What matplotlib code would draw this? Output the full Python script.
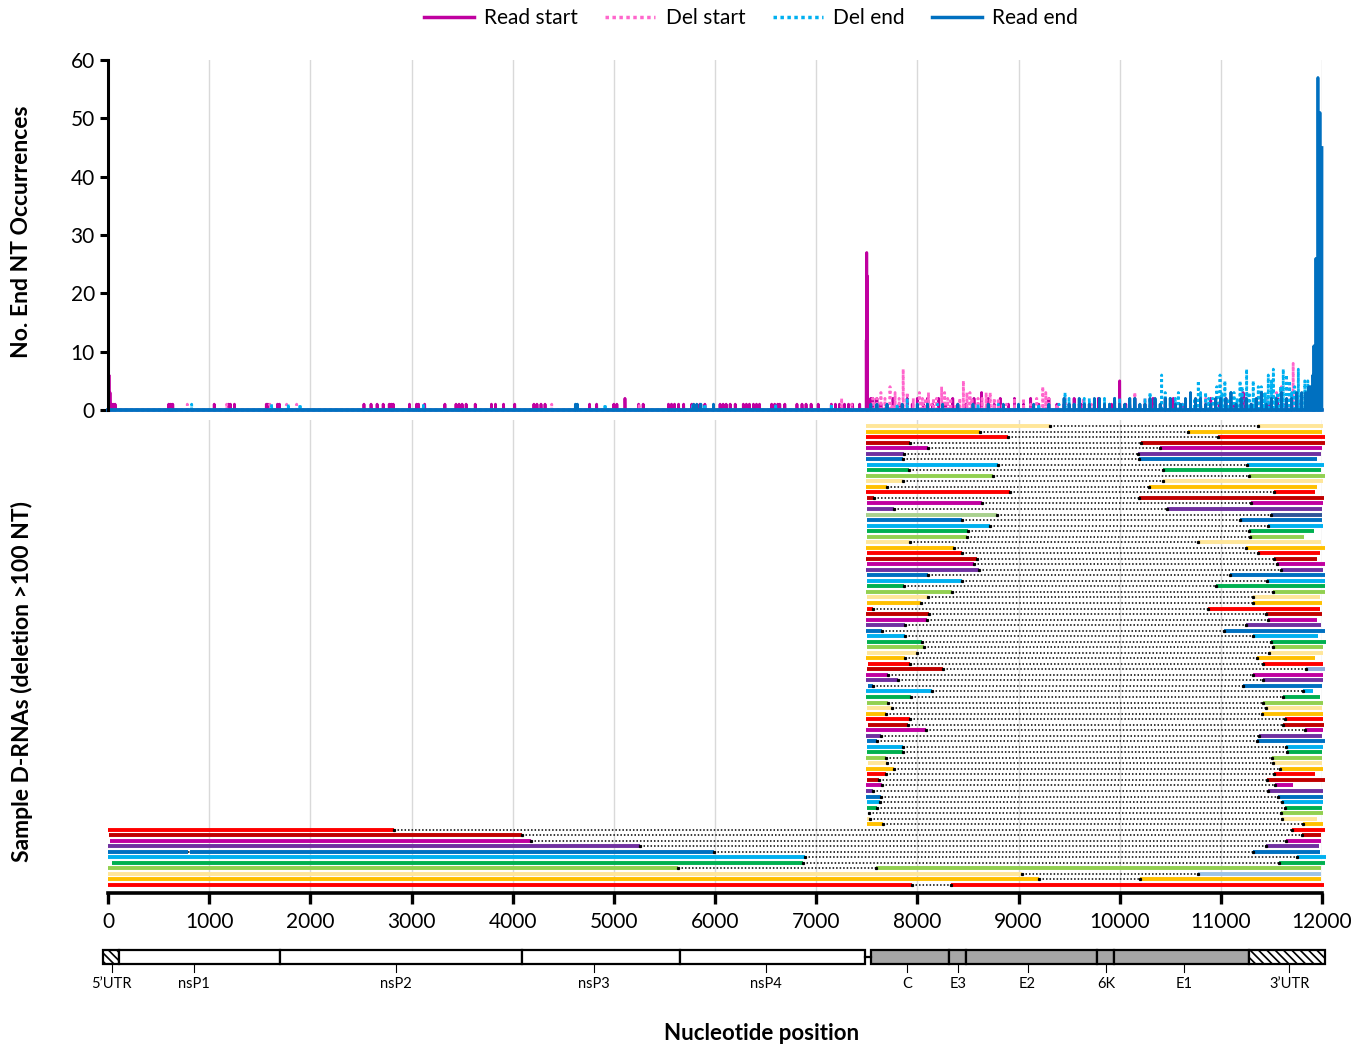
import numpy as np
import matplotlib
matplotlib.use("Agg")
import matplotlib.pyplot as plt
from matplotlib.patches import Rectangle
from matplotlib.lines import Line2D

plt.rcParams['font.family'] = ['Lato', 'DejaVu Sans']
plt.rcParams['hatch.linewidth'] = 1.2

GENOME_LEN = 12000

# ---------------- top panel : end nucleotide occurrences ----------------
read_start_pos = [10, 20, 30, 50, 70, 600, 620, 640, 1050, 1190, 1210, 1250, 1565, 1580, 1675, 1695,
                  2530, 2600, 2660, 2720, 2780, 2800, 2820, 2980, 3050, 3070, 3130, 3330, 3440, 3470,
                  3500, 3540, 3630, 3790, 3830, 3910, 4020, 4210, 4240, 4280, 4320, 4760, 4830, 5000,
                  5030, 5110, 5245, 5290, 5540, 5570, 5600, 5640, 5690, 5770, 5850, 5900, 6050, 6080,
                  6110, 6150, 6200, 6280, 6310, 6340, 6380, 6410, 6440, 6560, 6590, 6620, 6640, 6690,
                  6810, 6860, 6900, 6950, 7020, 7150, 7190, 7230, 7280, 7320, 7360, 7430,
                  7495, 7500, 7505, 7540, 7560, 7600, 7640, 7700, 7760, 7820, 7900, 7950, 8000, 8060,
                  8100, 8150, 8210, 8280, 8350, 8400, 8480, 8560, 8635, 8700, 8760, 8820, 8900, 8960,
                  9050, 9120, 9200, 9300, 9380, 9450, 9550, 9620, 9700, 9790, 9850, 9920, 10000, 10060,
                  10150, 10250, 10330, 10450, 10530, 10620, 10700, 10800, 10900, 10990, 11050, 11130,
                  11220, 11300, 11400, 11480, 11560, 11640, 11700, 11780, 11850, 11900]
read_start_cnt = [6, 3, 1, 1, 1, 1, 1, 1, 1, 1, 1, 1, 1, 1, 1, 1,
                  1, 1, 1, 1, 1, 1, 1, 1, 1, 1, 1, 1, 1, 1,
                  1, 1, 1, 1, 1, 1, 1, 1, 1, 1, 1, 1, 1, 1,
                  1, 2, 1, 1, 1, 1, 1, 1, 1, 1, 1, 1, 1, 1,
                  1, 1, 1, 1, 1, 1, 1, 1, 1, 1, 1, 1, 1, 1,
                  1, 1, 1, 1, 1, 1, 1, 1, 1, 1, 1, 1,
                  12, 27, 23, 2, 2, 2, 1, 1, 2, 1, 2, 1, 2, 1,
                  2, 1, 2, 1, 2, 1, 1, 2, 3, 2, 1, 2, 1, 2,
                  1, 2, 1, 2, 1, 1, 2, 1, 1, 2, 1, 1, 5, 1,
                  2, 1, 2, 1, 2, 1, 2, 1, 2, 1, 2, 1,
                  3, 1, 2, 1, 2, 1, 2, 1, 2, 1]

del_start_pos = [784, 1173, 1600, 1766, 1865, 4386, 4640, 5250, 7150, 7252, 7350,
                 7560, 7640, 7730, 7780, 7820, 7860, 7900, 7960, 8020, 8080, 8140, 8190, 8240, 8300,
                 8380, 8455, 8490, 8540, 8600, 8680, 8720, 8800, 8880, 8960, 9050, 9120, 9180, 9240,
                 9300, 9380, 9460, 9550, 9640, 9720, 9800, 9900, 10000, 10100, 10150, 10250, 10350,
                 10450, 10550, 10650, 10750, 10850, 10950, 11050, 11150, 11250, 11350, 11450, 11550,
                 11600, 11650, 11715, 11780, 11850,
                 7600, 7680, 7750, 8000, 8050, 8110, 8160, 8270, 8330, 8420, 8520, 8570, 8640,
                 8760, 8840, 9000, 9270, 9500, 9600, 9850, 10050, 10200, 10600, 11100, 11500, 11680]
del_start_cnt = [1, 1, 1, 1, 1, 1, 1, 1, 1, 2, 1,
                 2, 3, 4, 3, 2, 7, 3, 2, 3, 2, 1, 2, 4, 2,
                 1, 5, 3, 2, 2, 3, 3, 2, 1, 2, 2, 1, 2, 4,
                 2, 1, 2, 1, 2, 1, 2, 1, 2, 1, 3, 2, 1,
                 2, 1, 2, 1, 2, 1, 2, 1, 2, 1, 2, 3,
                 4, 6, 8, 2, 1,
                 2, 2, 1, 1, 2, 3, 2, 3, 2, 2, 3, 1, 2,
                 2, 1, 1, 3, 1, 1, 1, 1, 1, 1, 1, 2, 5]

del_end_pos = [827, 1617, 1782, 1898, 3117, 4913, 5780, 5900, 6600, 7150,
               7600, 7700, 7800, 7900, 8000, 8100, 8200, 8400, 8600, 8800, 9000, 9200, 9460, 9550,
               9650, 9750, 9850, 9950, 10050, 10150, 10250, 10300, 10415, 10500, 10580, 10650, 10700,
               10777, 10850, 10920, 10992, 11040, 11100, 11160, 11210, 11255, 11320, 11370, 11420,
               11469, 11519, 11560, 11617, 11650, 11700, 11766, 11830, 11880, 11930,
               9400, 9500, 9600, 9700, 9800, 9900, 10000, 10100, 10200, 10350, 10450, 10550, 10620,
               10740, 10800, 10880, 10960, 11010, 11070, 11130, 11190, 11280, 11340, 11400, 11440,
               11500, 11540, 11590, 11680, 11730, 11800, 11860, 11900]
del_end_cnt = [1, 1, 1, 1, 1, 1, 1, 1, 1, 1,
               1, 1, 1, 2, 1, 1, 1, 1, 1, 1, 1, 1, 3, 1,
               2, 1, 2, 2, 1, 2, 2, 3, 6, 2, 3, 2, 3,
               5, 3, 2, 6, 5, 3, 2, 4, 7, 5, 4, 3,
               6, 7, 3, 7, 6, 3, 7, 5, 4, 2,
               1, 2, 1, 2, 1, 1, 2, 1, 1, 2, 3, 2, 1,
               2, 3, 2, 4, 3, 2, 3, 5, 3, 2, 4, 3,
               5, 2, 4, 5, 4, 3, 5, 3]

read_end_pos = [4620, 4640, 5790, 5820, 5860, 5985,
                7540, 7600, 7700, 7850, 8000, 8100, 8250, 8400, 8550, 8700, 8850, 9000, 9150, 9300,
                9450, 9550, 9650, 9750, 9850, 9950, 10050, 10150, 10250, 10350, 10450, 10550, 10650,
                10750, 10850, 10950, 11050, 11150, 11250, 11350, 11450, 11550, 11650, 11750, 11800,
                11840, 11870, 11890, 11910, 11920, 11930, 11940, 11960, 11980, 11990, 12000,
                9500, 9600, 9700, 9800, 9900, 10000, 10100, 10200, 10300, 10400, 10500, 10600, 10700,
                10800, 10900, 11000, 11100, 11200, 11300, 11400, 11500, 11600, 11700]
read_end_cnt = [1, 1, 1, 1, 1, 1,
                1, 1, 1, 1, 1, 1, 1, 1, 1, 1, 1, 1, 1, 1,
                2, 1, 1, 2, 1, 2, 1, 2, 1, 2, 2, 1, 2,
                2, 1, 2, 2, 1, 2, 2, 1, 2, 2, 3, 3,
                3, 4, 4, 6, 11, 11, 26, 57, 51, 26, 45,
                1, 2, 1, 2, 1, 1, 2, 1, 2, 1, 2, 1, 3,
                2, 1, 2, 3, 2, 1, 3, 2, 3, 2]

# ---------------- bottom panel : sample D-RNAs ----------------
read_start = [7492, 7492, 7492, 7492, 7492, 7492, 7492, 7499, 7505, 7492,
              7492, 7492, 7492, 7499, 7499, 7499, 7492, 7499, 7499, 7499,
              7499, 7492, 7492, 7499, 7492, 7499, 7492, 7499, 7499, 7499,
              7492, 7499, 7499, 7505, 7492, 7492, 7492, 7492, 7499, 7499,
              7499, 7499, 7492, 7515, 7505, 7492, 7492, 7515, 7492, 7492,
              7505, 7499, 7492, 7492, 7515, 7492, 7492, 7505, 7505, 7499,
              7492, 7515, 7492, 7499, 7499, 7492, 7492, 7492, 7499, 7499,
              7525, 7505, 7502, 0, 8, 19, 0, 0, 0, 38,
              0, 0, 0, 0]
del_start = [9311, 8619, 8893, 7927, 8102, 7868, 7861, 8794, 7921, 8744,
             7855, 7696, 8916, 7571, 8639, 7769, 8784, 8438, 8718, 8497,
             8487, 7927, 8365, 8438, 8586, 8560, 8612, 8108, 8438, 7868,
             8339, 8108, 8033, 7558, 8118, 8098, 7878, 7654, 7878, 8049,
             8066, 7993, 7878, 7927, 8257, 7713, 7812, 7565, 8141, 7934,
             7713, 7746, 7690, 7927, 7904, 8085, 7637, 7598, 7861, 7861,
             7690, 7696, 7772, 7690, 7624, 7647, 7558, 7640, 7631, 7604,
             7525, 7532, 7665, 2827, 4094, 4184, 5254, 5990, 6890, 6874,
             5632, 9038, 9204, 7943]
del_end = [11370, 10678, 10975, 10207, 10398, 10184, 10194, 11255, 10425, 11281,
           10425, 10293, 11525, 10194, 11295, 10464, 11492, 11189, 11469, 11281,
           11288, 10771, 11248, 11370, 11525, 11552, 11594, 11090, 11453, 10952,
           11512, 11314, 11314, 10876, 11446, 11462, 11248, 11031, 11321, 11495,
           11519, 11479, 11354, 11420, 11841, 11314, 11413, 11215, 11808, 11611,
           11413, 11446, 11403, 11634, 11618, 11832, 11380, 11360, 11644, 11650,
           11502, 11519, 11585, 11525, 11453, 11535, 11469, 11568, 11601, 11634,
           11591, 11601, 11810, 11700, 11805, 11647, 11451, 11314, 11750, 11576,
           7590, 10773, 10203, 8330]
read_end = [12006, 11996, 12029, 12029, 11996, 11990, 11953, 12023, 11987, 12029,
            12006, 11947, 11931, 12019, 12006, 11996, 11996, 11999, 12006, 11921,
            11822, 11990, 12029, 11980, 11953, 12029, 12006, 12029, 12029, 12029,
            12029, 11980, 11996, 11980, 11996, 11953, 11987, 12029, 11963, 12039,
            12006, 12013, 11931, 12013, 12029, 12013, 12013, 11996, 11907, 11980,
            12006, 11996, 12006, 12006, 12019, 12006, 11996, 12029, 12013, 11996,
            11996, 11996, 12013, 11931, 12029, 11716, 12013, 12006, 12013, 11996,
            12006, 11947, 12010, 12030, 11992, 11988, 11967, 11980, 12040, 12033,
            11992, 11992, 11992, 12021]
extra_del = {77: (786, 813)}   # row index : (start, end) of a second short deletion

palette = ['#FFE699', '#FFC000', '#FF0000', '#C00000', '#C000A0',
           '#7030A0', '#0070C0', '#00B0F0', '#00B050', '#92D050']
left_override = {16: '#A9D18E'}
right_override = {16: '#2F5597', 44: '#8FAADC', 81: '#9DC3E6'}

# ---------------- genome map ----------------
map_edges = [-45, 110, 1700, 4088, 5654, 7478]           # non-structural boxes
struct_edges = [7542, 8317, 8479, 9776, 9948, 11277, 12025]  # structural boxes
gene_names = ["5\u2019UTR", "nsP1", "nsP2", "nsP3", "nsP4", "C", "E3", "E2", "6K", "E1", "3\u2019UTR"]
gene_label_pos = [35, 850, 2850, 4800, 6500, 7900, 8405, 9090, 9865, 10640, 11675]

W, H = 1367, 1048
fig = plt.figure(figsize=(W / 100, H / 100), dpi=100)
L, R = 108 / W, 1322 / W

def fy(px):
    return 1 - px / H

# ---- top axes ----
ax1 = fig.add_axes([L, fy(410), R - L, fy(60) - fy(410)])
x = np.arange(GENOME_LEN + 1)
series = [(read_start_pos, read_start_cnt, '#C000A0', '-'),
          (del_start_pos, del_start_cnt, '#FF66CC', (0, (1, 1))),
          (del_end_pos, del_end_cnt, '#00B0F0', (0, (1, 1))),
          (read_end_pos, read_end_cnt, '#0070C0', '-')]
for pos, cnt, col, ls in series:
    y = np.zeros(GENOME_LEN + 1)
    y[np.array(pos)] = cnt
    ax1.plot(x, y, color=col, ls=ls, lw=2.0 if ls == '-' else 2.0, clip_on=False)
ax1.plot([0, GENOME_LEN], [0, 0], color='#0070C0', lw=2.6, clip_on=False)
ax1.set_xlim(0, GENOME_LEN)
ax1.set_ylim(0, 60)
ax1.set_yticks(range(0, 61, 10))
ax1.set_xticks([])
for xv in range(1000, 12001, 1000):
    ax1.axvline(xv, color='#D9D9D9', lw=1, zorder=0)
for s in ['top', 'right', 'bottom']:
    ax1.spines[s].set_visible(False)
ax1.spines['left'].set_linewidth(2.2)
ax1.tick_params(axis='y', labelsize=15, width=2.2, length=6)

# ---- bottom axes ----
ax2 = fig.add_axes([L, fy(893), R - L, fy(420) - fy(893)])
n = len(read_start)
for i in range(n):
    row = i + 1
    if i < 16:
        ci = i % 10
    else:
        ci = (i - 11) % 10
    lc = left_override.get(i, palette[ci])
    rc = right_override.get(i, palette[ci])
    ax2.plot([del_start[i], del_end[i]], [row, row], color='black', lw=1.1,
             ls=(0, (1, 1.3)), solid_capstyle='butt', clip_on=False, zorder=2)
    if i in extra_del:
        a, b = extra_del[i]
        ax2.plot([read_start[i], a], [row, row], color=lc, lw=2.8, solid_capstyle='butt', clip_on=False, zorder=3)
        ax2.plot([a, b], [row, row], color='black', lw=1.1, ls=(0, (1, 1.3)), clip_on=False, zorder=2)
        ax2.plot([b, del_start[i]], [row, row], color=lc, lw=2.8, solid_capstyle='butt', clip_on=False, zorder=3)
    elif del_start[i] > read_start[i]:
        ax2.plot([read_start[i], del_start[i]], [row, row], color=lc, lw=2.8,
                 solid_capstyle='butt', clip_on=False, zorder=3)
    ax2.plot([del_end[i], read_end[i]], [row, row], color=rc, lw=2.8,
             solid_capstyle='butt', clip_on=False, zorder=3)
    ax2.plot([del_start[i], del_end[i]], [row, row], ls='none', marker='s', ms=1.3,
             color='black', clip_on=False, zorder=4)
ax2.set_xlim(0, GENOME_LEN)
ax2.set_ylim(n + 1.45, -0.1)
for xv in range(1000, 12001, 1000):
    ax2.axvline(xv, color='#D9D9D9', lw=1, zorder=0)
for s in ['top', 'right', 'left']:
    ax2.spines[s].set_visible(False)
ax2.spines['bottom'].set_linewidth(2.6)
ax2.set_yticks([])
ax2.set_xticks(range(0, 12001, 1000))
ax2.tick_params(axis='x', labelsize=15, width=2.4, length=8, pad=6)

# ---- genome map ----
ax3 = fig.add_axes([L, fy(1000), R - L, fy(940) - fy(1000)])
ax3.set_xlim(0, GENOME_LEN)
ax3.set_ylim(1000, 940)
ax3.axis('off')
top, bot = 950, 964
ax3.add_patch(Rectangle((map_edges[0], top), map_edges[1] - map_edges[0], bot - top,
                        facecolor='white', edgecolor='black', hatch='\\\\\\\\', lw=1.6, clip_on=False))
for a, b in zip(map_edges[1:-1], map_edges[2:]):
    ax3.add_patch(Rectangle((a, top), b - a, bot - top, facecolor='white',
                            edgecolor='black', lw=1.6, clip_on=False))
ax3.plot([map_edges[-1], struct_edges[0]], [957, 957], color='black', lw=1.6, clip_on=False)
for a, b in zip(struct_edges[:-2], struct_edges[1:-1]):
    ax3.add_patch(Rectangle((a, top), b - a, bot - top, facecolor='#A6A6A6',
                            edgecolor='black', lw=1.6, clip_on=False))
ax3.add_patch(Rectangle((struct_edges[-2], top), struct_edges[-1] - struct_edges[-2], bot - top,
                        facecolor='white', edgecolor='black', hatch='\\\\\\\\', lw=1.6, clip_on=False))
for name, xp in zip(gene_names, gene_label_pos):
    ax3.plot([xp, xp], [bot, 972], color='black', lw=0.8, clip_on=False)
    ax3.text(xp, 984, name, ha='center', va='center', fontsize=10.5)

# ---- labels & legend ----
fig.text(22 / W, fy(232), 'No. End NT Occurrences', rotation=90, ha='center', va='center',
         fontsize=16.5, fontweight='bold')
fig.text(22 / W, fy(682), 'Sample D-RNAs (deletion >100 NT)', rotation=90, ha='center',
         va='center', fontsize=16.5, fontweight='bold')
fig.text(762 / W, fy(1033), 'Nucleotide position', ha='center', va='center',
         fontsize=16, fontweight='bold')

handles = [Line2D([], [], color='#C000A0', lw=2.5),
           Line2D([], [], color='#FF66CC', lw=2.5, ls=(0, (1, 1))),
           Line2D([], [], color='#00B0F0', lw=2.5, ls=(0, (1, 1))),
           Line2D([], [], color='#0070C0', lw=2.5)]
fig.legend(handles, ['Read start', 'Del start', 'Del end', 'Read end'], loc='center',
           bbox_to_anchor=(751 / W, fy(18)), ncol=4, frameon=False, fontsize=15,
           handlelength=2.4, columnspacing=1.3, handletextpad=0.5)

fig.savefig('out.png', dpi=100)
